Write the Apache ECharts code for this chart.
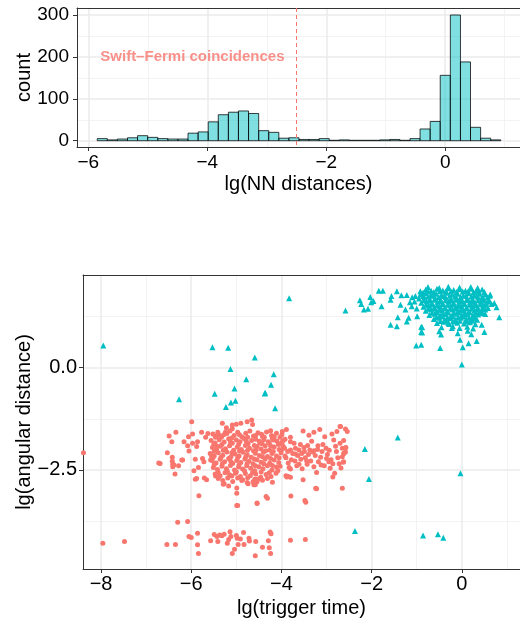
<!DOCTYPE html>
<html lang="en">
<head>
<meta charset="utf-8">
<title>NN distances and trigger time</title>
<style>
* { margin: 0; padding: 0; }
#chart-container { width: 520px; height: 620px; overflow: hidden; }
</style>
</head>
<body>
<div id="chart-container"></div>
<script src="https://cdn.jsdelivr.net/npm/echarts@6/dist/echarts.min.js"></script>
<script>
// --- histogram of lg(NN distances) ---
const binEdges = [-5.850, -5.680, -5.511, -5.341, -5.172, -5.002, -4.832, -4.663, -4.493, -4.324,
  -4.154, -3.984, -3.815, -3.645, -3.476, -3.306, -3.136, -2.967, -2.797, -2.628,
  -2.458, -2.288, -2.119, -1.949, -1.780, -1.610, -1.440, -1.271, -1.101, -0.932,
  -0.762, -0.592, -0.423, -0.253, -0.084, 0.086, 0.256, 0.425, 0.595, 0.764, 0.934];
const binCounts = [5, 2, 4, 7, 12, 8, 5, 4, 4, 18, 21, 45, 62, 68, 71, 65, 24, 20, 6, 7,
  3, 3, 5, 1, 2, 1, 1, 1, 2, 3, 1, 5, 28, 46, 156, 300, 188, 32, 6, 2];
const cutLine = -2.5;
const noteText = 'Swift–Fermi coincidences';
const notePos = [-4.25, 200];

const histXTicks = [-6, -4, -2, 0];
const histXMinor = [-5, -3, -1, 1];
const histYTicks = [0, 100, 200, 300];
const histYMinor = [50, 150, 250];

// --- scatter lg(trigger time) vs lg(angular distance) ---
const swiftFermi = [
  [-5.99,-1.32],[-6.34,-1.58],[-6.49,-1.67],[-6.43,-1.81],[-6.16,-1.81],[-6.06,-1.69],[-5.97,-1.62],[-5.97,-1.85],
  [-6.08,-1.91],[-6.05,-2.04],[-5.86,-1.81],[-5.88,-1.93],[-5.77,-1.58],[-5.68,-1.70],[-5.63,-1.61],[-6.53,-2.08],
  [-6.42,-2.19],[-6.42,-2.29],[-6.38,-2.38],[-6.28,-2.40],[-6.19,-2.26],[-6.69,-2.34],[-6.36,-2.60],[-5.91,-2.24],
  [-5.75,-2.22],[-5.72,-2.30],[-5.84,-2.44],[-5.94,-2.52],[-5.91,-2.73],[-5.71,-2.70],[-5.57,-2.26],[-5.55,-2.16],
  [-5.42,-1.93],[-5.46,-1.70],[-5.38,-1.65],[-5.31,-1.36],[-5.22,-1.47],[-5.09,-1.40],[-5.00,-1.38],[-4.90,-1.36],
  [-4.76,-1.32],[-4.66,-1.28],[-5.24,-1.57],[-5.09,-1.49],[-5.46,-2.65],[-5.27,-2.84],[-5.10,-2.65],[-4.99,-2.94],
  [-4.88,-2.76],[-4.74,-2.84],[-5.17,-2.89],[-4.59,-2.73],[-4.54,-2.79],[-4.61,-2.86],
  [-4.64,-1.39],[-4.24,-1.54],[-3.98,-1.56],[-3.89,-1.51],[-3.80,-1.70],[-3.80,-1.81],[-3.92,-1.75],[-3.99,-1.83],
  [-4.06,-1.88],[-4.20,-1.73],[-4.27,-1.84],[-4.42,-1.68],[-4.49,-1.80],[-3.52,-1.55],[-3.39,-1.65],[-3.28,-1.58],
  [-3.15,-1.51],[-3.04,-1.69],[-2.88,-1.62],[-2.77,-1.56],[-2.69,-1.44],[-2.62,-1.78],[-2.58,-1.50],[-2.84,-1.77],
  [-3.19,-1.91],[-3.28,-2.03],[-3.37,-2.01],[-3.49,-2.05],[-3.61,-2.01],[-3.69,-1.97],[-3.69,-2.11],[-3.57,-2.24],
  [-3.61,-2.36],[-3.54,-2.47],[-3.43,-2.36],[-3.31,-2.06],[-3.13,-2.19],[-3.01,-1.97],[-2.95,-2.30],[-2.92,-2.46],
  [-2.82,-2.58],[-2.65,-2.18],[-2.62,-2.30],[-2.58,-2.06],[-2.65,-1.97],[-3.83,-2.44],[-3.80,-2.48],[-3.85,-2.66],
  [-3.80,-2.68],[-3.92,-2.16],[-3.52,-2.74],[-3.22,-2.56],[-3.24,-2.95],[-2.65,-2.95],[-2.86,-2.67],[-3.80,-2.01],
  [-3.90,-2.20],[-3.85,-2.33],[-3.75,-2.10],[-3.70,-2.28],[-3.64,-2.15],[-3.58,-1.88],[-3.47,-2.20],[-3.42,-1.90],
  [-3.35,-2.28],[-3.25,-2.15],[-3.18,-2.30],[-3.10,-2.05],[-3.05,-2.40],[-2.98,-2.12],[-2.90,-2.25],[-2.78,-2.05],
  [-2.72,-2.35],[-2.70,-1.85],[-2.62,-2.10],[-2.57,-1.95],
  [-3.93,-1.97],[-3.86,-2.05],[-3.78,-2.25],[-3.72,-1.85],[-3.66,-2.40],[-3.55,-2.10],[-3.50,-1.95],[-3.44,-2.28],
  [-3.40,-2.12],[-3.33,-1.80],[-3.28,-2.42],[-3.20,-2.00],[-3.12,-2.38],[-3.08,-1.88],[-3.00,-2.22],[-2.94,-2.02],
  [-2.86,-2.35],[-2.80,-1.92],[-2.75,-2.20],[-2.68,-2.45],
  [-5.83,-3.13],[-4.99,-3.07],[-4.99,-3.37],[-4.97,-3.37],[-4.54,-3.31],[-4.34,-3.15],[-4.31,-3.19],[-3.79,-3.14],
  [-3.48,-3.25],[-3.22,-2.96],[-3.90,-2.64],[-3.88,-2.67],[-4.76,-2.81],[-4.58,-2.86],[-5.29,-2.85],[-5.66,-2.74],
  [-5.88,-2.71],[-6.72,-2.33],[-6.41,-2.36],[-6.41,-2.42],[-6.21,-2.26],[-8.39,-2.08],[-2.61,-2.09],[-2.58,-1.96],
  [-2.63,-2.31],[-2.54,-1.56],[-2.70,-1.44],
  // dense core
  [-5.52,-1.62],[-5.41,-1.58],[-5.33,-1.70],[-5.21,-1.61],[-5.14,-1.55],[-5.05,-1.66],[-4.97,-1.58],[-4.88,-1.69],
  [-4.79,-1.60],[-4.70,-1.55],[-4.62,-1.67],[-4.52,-1.59],[-4.44,-1.63],[-4.33,-1.57],[-4.22,-1.66],[-4.11,-1.60],
  [-4.03,-1.70],[-5.56,-1.78],[-5.47,-1.84],[-5.38,-1.76],[-5.27,-1.82],[-5.17,-1.74],[-5.09,-1.85],[-5.00,-1.77],
  [-4.92,-1.81],[-4.83,-1.73],[-4.74,-1.86],[-4.66,-1.78],[-4.57,-1.75],[-4.48,-1.84],[-4.39,-1.76],[-4.29,-1.81],
  [-4.18,-1.77],[-4.07,-1.86],[-3.97,-1.79],[-5.53,-1.95],[-5.44,-2.00],[-5.35,-1.92],[-5.24,-1.98],[-5.15,-1.91],
  [-5.06,-2.02],[-4.98,-1.94],[-4.89,-2.00],[-4.80,-1.90],[-4.71,-1.97],[-4.62,-2.03],[-4.54,-1.93],[-4.45,-1.99],
  [-4.36,-1.91],[-4.26,-2.01],[-4.16,-1.94],[-4.05,-2.00],[-3.96,-1.92],[-5.58,-2.10],[-5.49,-2.16],[-5.40,-2.08],
  [-5.30,-2.14],[-5.21,-2.06],[-5.12,-2.18],[-5.03,-2.11],[-4.94,-2.16],[-4.85,-2.07],[-4.76,-2.13],[-4.67,-2.19],
  [-4.58,-2.09],[-4.49,-2.15],[-4.40,-2.07],[-4.31,-2.17],[-4.21,-2.10],[-4.11,-2.16],[-4.01,-2.08],[-5.54,-2.27],
  [-5.45,-2.33],[-5.36,-2.24],[-5.26,-2.30],[-5.17,-2.22],[-5.08,-2.34],[-4.99,-2.27],[-4.90,-2.32],[-4.81,-2.23],
  [-4.72,-2.29],[-4.63,-2.35],[-4.54,-2.25],[-4.45,-2.31],[-4.36,-2.23],[-4.26,-2.33],[-4.16,-2.26],[-4.06,-2.32],
  [-5.51,-2.44],[-5.42,-2.49],[-5.32,-2.41],[-5.22,-2.47],[-5.13,-2.39],[-5.04,-2.50],[-4.95,-2.43],[-4.86,-2.48],
  [-4.77,-2.40],[-4.68,-2.46],[-4.59,-2.52],[-4.50,-2.42],[-4.41,-2.47],[-4.31,-2.40],[-4.21,-2.50],[-4.11,-2.43],
  [-5.47,-2.60],[-5.36,-2.64],[-5.25,-2.57],[-5.15,-2.62],[-5.02,-2.58],[-4.91,-2.66],[-4.80,-2.59],[-4.69,-2.64],
  [-4.57,-2.60],[-4.46,-2.68],[-4.34,-2.61],[-4.23,-2.66],[-4.12,-2.58],[-5.30,-2.76],[-5.08,-2.78],[-4.86,-2.74],
  [-4.63,-2.79],[-4.42,-2.75],[-4.20,-2.80],
  [-5.47,-1.67],[-5.28,-1.64],[-5.10,-1.72],[-4.93,-1.64],[-4.75,-1.70],[-4.57,-1.66],[-4.38,-1.70],[-4.16,-1.69],
  [-3.99,-1.64],[-5.50,-1.87],[-5.32,-1.88],[-5.13,-1.82],[-4.95,-1.88],[-4.78,-1.80],[-4.60,-1.90],[-4.43,-1.86],
  [-4.24,-1.91],[-4.10,-1.79],[-5.49,-2.05],[-5.29,-2.02],[-5.10,-2.08],[-4.93,-2.04],[-4.75,-2.02],[-4.56,-2.01],
  [-4.35,-2.03],[-4.18,-2.05],[-4.00,-2.01],[-5.52,-2.21],[-5.34,-2.19],[-5.15,-2.24],[-4.97,-2.20],[-4.79,-2.18],
  [-4.60,-2.23],[-4.42,-2.18],[-4.24,-2.22],[-4.05,-2.20],[-5.49,-2.37],[-5.31,-2.35],[-5.12,-2.30],[-4.94,-2.38],
  [-4.76,-2.34],[-4.58,-2.40],[-4.39,-2.35],[-4.20,-2.39],[-4.03,-2.41],[-5.40,-2.56],[-5.20,-2.53],[-5.00,-2.55],
  [-4.82,-2.52],[-4.64,-2.56],[-4.45,-2.55],[-4.27,-2.57],[-4.08,-2.52],[-5.40,-2.71],[-5.19,-2.70],[-4.97,-2.70],
  [-4.75,-2.69],[-4.52,-2.72],[-4.31,-2.71],
  // lower row
  [-7.96,-4.29],[-7.48,-4.25],[-6.54,-4.32],[-6.35,-4.32],[-6.30,-3.78],[-6.08,-3.76],[-6.05,-4.13],[-6.00,-4.15],
  [-5.86,-4.05],[-5.86,-4.33],[-5.84,-4.54],[-5.57,-4.23],[-5.49,-4.08],[-5.43,-4.13],[-5.41,-4.25],[-5.37,-4.09],
  [-5.32,-4.11],[-5.27,-4.07],[-5.20,-4.29],[-5.17,-4.20],[-5.14,-4.01],[-5.12,-4.13],[-5.09,-4.54],[-5.04,-4.44],
  [-5.00,-4.10],[-4.98,-4.17],[-4.96,-4.32],[-4.91,-4.19],[-4.84,-4.03],[-4.83,-4.32],[-4.72,-4.17],[-4.71,-4.24],
  [-4.57,-4.25],[-4.58,-4.60],[-4.42,-4.39],[-4.29,-4.23],[-4.27,-4.40],[-4.25,-4.02],[-4.23,-4.06],[-4.24,-4.54],
  [-3.80,-4.22],[-3.47,-4.20],[-4.54,-3.32],[-3.46,-3.29]
];

const others = [
  // isolated
  [-7.95,0.54],[-3.83,1.70],[-5.53,0.50],[-5.18,0.49],[-4.59,0.25],[-5.13,-0.03],[-4.78,-0.28],[-4.17,-0.16],
  [-4.23,-0.42],[-5.04,-0.51],[-4.36,-0.61],[-4.37,-0.63],[-5.48,-0.64],[-6.27,-0.77],[-5.02,-0.81],[-5.12,-0.85],
  [-5.23,-0.96],[-4.14,-0.99],[-1.42,-1.71],[-2.15,-1.99],[-2.06,-2.72],[-0.03,-2.58],[-2.37,-3.99],[-0.86,-4.10],
  [-0.53,-4.07],[-0.41,-4.16],[0.00,0.08],
  // edge of the cluster
  [-2.58,1.40],[-2.26,1.65],[-2.23,1.56],[-2.17,1.42],[-2.08,1.44],[-2.03,1.73],[-2.01,1.60],[-1.96,1.63],
  [-1.84,1.88],[-1.75,1.88],[-1.78,1.50],[-1.58,1.66],[-1.56,1.75],[-1.58,1.05],[-1.44,1.87],[-1.44,1.01],
  [-1.42,1.23],[-1.36,1.54],[-1.34,1.77],[-1.25,1.42],[-1.22,1.78],[-1.18,1.22],[-1.22,1.13],[-1.10,1.72],
  [-1.11,1.50],[-1.03,1.75],[-0.99,1.26],[-1.01,0.54],[-0.90,0.56],[-0.88,0.99],[-0.88,0.86],[-0.92,1.87],
  [-0.86,1.84],[0.83,1.23],[0.77,1.48],[0.72,1.58],[0.63,1.79],[0.52,1.31],[0.50,0.87],[0.33,0.65],
  [0.15,0.60],[0.02,0.50],[0.44,1.05],[0.21,0.82],[0.13,0.90],[-0.04,0.68],[-0.09,0.84],[-0.46,0.81],
  [-0.50,0.89],[-0.48,0.48],[-0.90,1.00],[-0.90,0.87],[-0.22,0.97],[-0.15,1.14],[-0.30,1.09],[0.08,1.13],
  [0.30,1.21],[0.37,1.42],[-1.05,1.62],[-1.15,1.60],[-1.00,1.45],
  // dense cluster
  [-0.80,1.91],[-0.68,1.88],[-0.55,1.93],[-0.42,1.89],[-0.30,1.94],[-0.18,1.90],[-0.05,1.92],[0.08,1.88],
  [0.20,1.93],[0.32,1.89],[0.45,1.91],[-0.92,1.79],[-0.80,1.82],[-0.69,1.77],[-0.57,1.81],[-0.45,1.78],
  [-0.33,1.83],[-0.21,1.79],[-0.09,1.81],[0.03,1.77],[0.15,1.82],[0.27,1.78],[0.39,1.81],[0.52,1.79],
  [0.62,1.76],[-0.95,1.69],[-0.83,1.72],[-0.71,1.68],[-0.59,1.71],[-0.47,1.67],[-0.36,1.72],[-0.24,1.69],
  [-0.12,1.71],[0.00,1.67],[0.12,1.70],[0.24,1.68],[0.36,1.72],[0.48,1.69],[0.60,1.66],[-0.90,1.59],
  [-0.78,1.62],[-0.66,1.58],[-0.54,1.61],[-0.42,1.57],[-0.30,1.62],[-0.18,1.59],[-0.06,1.61],[0.06,1.57],
  [0.18,1.60],[0.30,1.58],[0.42,1.62],[0.54,1.59],[0.66,1.56],[-0.85,1.49],[-0.73,1.52],[-0.61,1.48],
  [-0.49,1.51],[-0.37,1.47],[-0.25,1.52],[-0.13,1.49],[-0.01,1.51],[0.11,1.47],[0.23,1.50],[0.35,1.48],
  [0.47,1.52],[0.58,1.46],[-0.80,1.39],[-0.68,1.42],[-0.56,1.38],[-0.44,1.41],[-0.32,1.37],[-0.20,1.42],
  [-0.08,1.39],[0.04,1.41],[0.16,1.37],[0.28,1.40],[0.40,1.38],[0.52,1.42],[-0.72,1.29],[-0.60,1.32],
  [-0.48,1.28],[-0.36,1.31],[-0.24,1.27],[-0.12,1.32],[0.00,1.29],[0.12,1.31],[0.24,1.27],[0.36,1.30],
  [0.46,1.33],[-0.62,1.19],[-0.50,1.22],[-0.38,1.18],[-0.26,1.21],[-0.14,1.17],[-0.02,1.22],[0.10,1.19],
  [0.22,1.21],[0.34,1.17],[-0.55,1.09],[-0.40,1.12],[-0.28,1.07],[-0.10,1.10],[0.05,1.08],[0.18,1.11],
  [0.30,1.06],[-0.45,0.99],[-0.20,1.01],[-0.05,0.97],[0.12,1.00],[0.25,0.96],[-0.75,1.97],[-0.50,1.95],
  [-0.30,1.98],[-0.05,1.96],[0.20,1.97],[0.35,1.95],
  [-0.74,1.86],[-0.62,1.85],[-0.49,1.87],[-0.36,1.86],[-0.24,1.87],[-0.12,1.85],[0.02,1.86],[0.14,1.87],
  [0.26,1.85],[0.38,1.86],[0.50,1.85],[-0.86,1.75],[-0.75,1.74],[-0.63,1.76],[-0.51,1.73],[-0.39,1.75],
  [-0.27,1.76],[-0.15,1.74],[-0.03,1.73],[0.09,1.75],[0.21,1.74],[0.33,1.76],[0.45,1.73],[0.57,1.72],
  [-0.84,1.65],[-0.72,1.64],[-0.60,1.66],[-0.48,1.63],[-0.36,1.65],[-0.24,1.64],[-0.12,1.66],[0.00,1.63],
  [0.12,1.65],[0.24,1.63],[0.36,1.65],[0.48,1.64],[0.60,1.62],[-0.79,1.54],[-0.67,1.55],[-0.55,1.53],
  [-0.43,1.55],[-0.31,1.54],[-0.19,1.55],[-0.07,1.53],[0.05,1.55],[0.17,1.54],[0.29,1.53],[0.41,1.55],
  [0.53,1.54],[-0.74,1.44],[-0.62,1.45],[-0.50,1.43],[-0.38,1.45],[-0.26,1.44],[-0.14,1.45],[-0.02,1.43],
  [0.10,1.45],[0.22,1.44],[0.34,1.43],[0.46,1.45],[-0.66,1.34],[-0.54,1.35],[-0.42,1.33],[-0.30,1.35],
  [-0.18,1.34],[-0.06,1.35],[0.06,1.33],[0.18,1.35],[0.30,1.34],[0.42,1.36],[-0.56,1.24],[-0.44,1.25],
  [-0.32,1.23],[-0.20,1.25],[-0.08,1.24],[0.04,1.25],[0.16,1.23],[0.28,1.25],[-0.48,1.14],[-0.34,1.15],
  [-0.20,1.13],[-0.04,1.15],[0.12,1.14],[0.24,1.15]
];

const scatXTicks = [-8, -6, -4, -2, 0];
const scatXMinor = [-7, -5, -3, -1, 1];
const scatYTicks = [-2.5, 0];
const scatYMinor = [-3.75, -1.25, 1.25];

const RED = '#F8766D';
const CYAN = '#00BFC4';
const FONT = 'Liberation Sans, Arial, sans-serif';
const FRAME = { show: true, onZero: false, lineStyle: { color: '#333', width: 1 } };

function minus(s) { return String(s).replace('-', '\u2212'); }

let histData = [];
for (let i = 0; i < binCounts.length; i++) {
  histData.push([binEdges[i], binEdges[i + 1], binCounts[i]]);
}

function majorAxis(grid, min, max, ticks, fontSize, margin, name, nameGap, fmt) {
  return {
    gridIndex: grid, type: 'value', min: min, max: max,
    axisLine: FRAME,
    axisTick: { show: true, customValues: ticks, length: 4, lineStyle: { color: '#333', width: 1 } },
    axisLabel: { customValues: ticks, fontSize: fontSize, color: '#000', margin: margin, formatter: fmt, fontFamily: FONT },
    splitLine: { show: true, lineStyle: { color: '#ebebeb', width: 1.5 } },
    name: name, nameLocation: 'middle', nameGap: nameGap, nameMoveOverlap: false,
    nameTextStyle: { fontSize: 20, color: '#000', fontFamily: FONT }
  };
}
function minorAxis(grid, min, max, ticks) {
  return {
    gridIndex: grid, type: 'value', min: min, max: max,
    axisLine: FRAME,
    axisTick: { show: false, customValues: ticks },
    axisLabel: { show: false, customValues: ticks },
    splitLine: { show: true, lineStyle: { color: '#f0f0f0', width: 0.8 } }
  };
}

var dom = document.getElementById('chart-container');
var myChart = echarts.init(dom, null, { renderer: 'canvas' });

var option = {
  animation: false,
  backgroundColor: '#fff',
  textStyle: { fontFamily: FONT },
  grid: [
    { left: 77, top: 8, width: 444, height: 139 },
    { left: 83, top: 275, width: 438, height: 294 }
  ],
  xAxis: [
    majorAxis(0, -6.19, 1.257, histXTicks, 19, 6, 'lg(NN distances)', 27, v => minus(v)),
    minorAxis(0, -6.19, 1.257, histXMinor),
    majorAxis(1, -8.40, 1.29, scatXTicks, 20, 5, 'lg(trigger time)', 29, v => minus(v)),
    minorAxis(1, -8.40, 1.29, scatXMinor)
  ],
  yAxis: [
    majorAxis(0, -15, 316.7, histYTicks, 19, 8, 'count', 43, v => minus(v)),
    minorAxis(0, -15, 316.7, histYMinor),
    majorAxis(1, -4.922, 2.266, scatYTicks, 20, 6, 'lg(angular distance)', 49, v => minus(v.toFixed(1))),
    minorAxis(1, -4.922, 2.266, scatYMinor)
  ],
  series: [
    {
      type: 'custom',
      xAxisIndex: 0, yAxisIndex: 0, z: 2,
      data: histData,
      encode: { x: [0, 1], y: 2 },
      renderItem: function (params, api) {
        var p0 = api.coord([api.value(0), api.value(2)]);
        var p1 = api.coord([api.value(1), 0]);
        return {
          type: 'rect',
          shape: { x: p0[0], y: p0[1], width: p1[0] - p0[0], height: p1[1] - p0[1] },
          style: { fill: 'rgba(0,191,196,0.5)', stroke: 'rgba(0,0,0,0.75)', lineWidth: 1 }
        };
      }
    },
    {
      // dashed cut at lg = -2.5
      type: 'custom',
      xAxisIndex: 0, yAxisIndex: 0, z: 5,
      data: [[cutLine]],
      encode: { x: 0 },
      renderItem: function (params, api) {
        var cs = params.coordSys;
        var x = api.coord([api.value(0), 0])[0];
        return {
          type: 'line',
          shape: { x1: x, y1: cs.y, x2: x, y2: cs.y + cs.height },
          style: { stroke: RED, lineWidth: 1, lineDash: [4, 3] }
        };
      }
    },
    {
      type: 'scatter',
      xAxisIndex: 0, yAxisIndex: 0, z: 6,
      symbolSize: 0,
      data: [notePos],
      label: {
        show: true, position: 'inside', formatter: noteText,
        color: RED, fontSize: 15, fontWeight: 'bold', fontFamily: FONT,
        textBorderWidth: 0
      }
    },
    {
      name: 'Swift–Fermi', type: 'scatter',
      xAxisIndex: 2, yAxisIndex: 2, z: 3,
      symbol: 'circle', symbolSize: 5,
      itemStyle: { color: RED, opacity: 1 },
      data: swiftFermi
    },
    {
      name: 'other', type: 'scatter',
      xAxisIndex: 2, yAxisIndex: 2, z: 3,
      symbol: 'triangle', symbolSize: 6,
      itemStyle: { color: CYAN, opacity: 1 },
      data: others
    }
  ]
};

myChart.setOption(option);
window.addEventListener('resize', myChart.resize);
</script>
</body>
</html>
